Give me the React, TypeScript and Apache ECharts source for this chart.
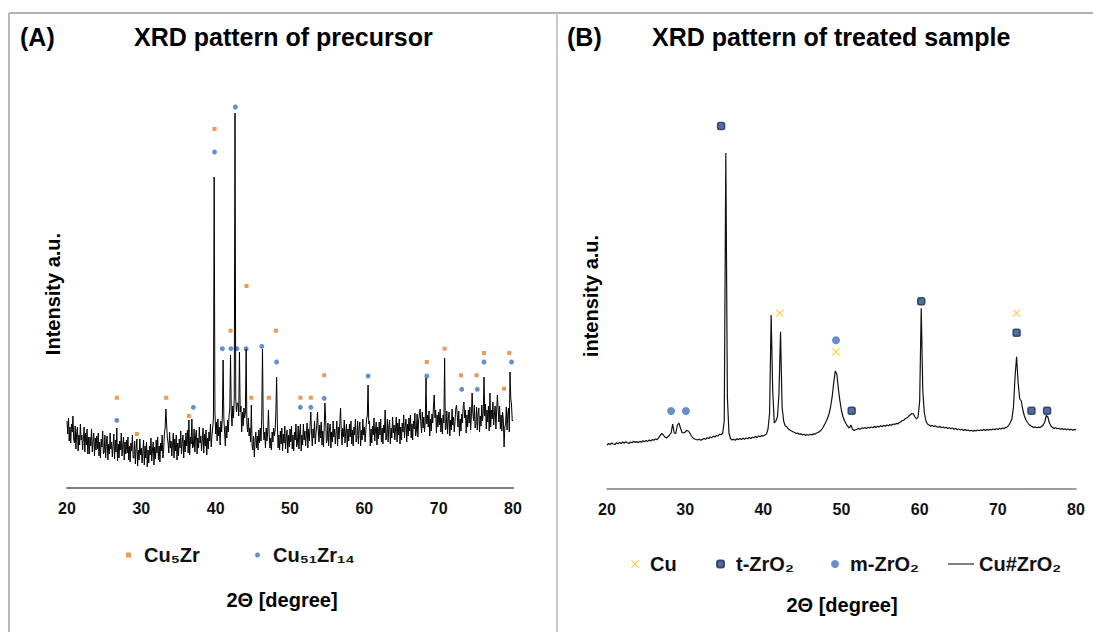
import React, { useEffect, useRef } from "react";
import * as echarts from "echarts";

// ---- sampling grids (2θ in degrees) ----
const X_START = 20;
const X_STEP_A = 0.1;
const X_STEP_B = 0.2;
const X_MIN = 20;
const X_MAX = 80;
const X_INTERVAL = 10;

// ---- (A) precursor pattern, intensity a.u., 20.0 .. 80.0 step 0.1 (one row per degree) ----
const PATTERN_A = [
  670, 540, 700, 470, 610, 450, 640, 560, 720, 490, // 20
  450, 620, 390, 550, 610, 370, 530, 430, 640, 480, // 21
  530, 380, 490, 610, 360, 550, 430, 590, 340, 510, // 22
  340, 510, 420, 590, 360, 470, 550, 320, 500, 380, // 23
  520, 390, 550, 320, 460, 300, 490, 410, 570, 340, // 24
  360, 530, 300, 460, 520, 280, 440, 340, 550, 390, // 25
  460, 310, 420, 540, 290, 480, 360, 600, 270, 440, // 26
  300, 470, 380, 550, 320, 430, 510, 280, 460, 340, // 27
  480, 350, 510, 280, 420, 260, 450, 370, 530, 300, // 28
  300, 470, 240, 400, 490, 220, 380, 280, 490, 330, // 29
  400, 250, 360, 480, 230, 420, 300, 460, 210, 380, // 30
  250, 420, 330, 500, 270, 380, 460, 230, 410, 290, // 31
  480, 350, 510, 280, 420, 260, 450, 370, 530, 300, // 32
  370, 540, 600, 790, 640, 500, 450, 350, 560, 400, // 33
  470, 320, 430, 550, 300, 490, 370, 530, 280, 450, // 34
  320, 490, 400, 570, 340, 450, 530, 300, 480, 360, // 35
  550, 420, 580, 350, 680, 330, 510, 440, 690, 400, // 36
  420, 590, 360, 520, 580, 340, 500, 400, 610, 450, // 37
  520, 370, 480, 600, 350, 540, 420, 580, 330, 500, // 38
  390, 560, 470, 640, 410, 520, 600, 700, 3110, 760, // 39
  540, 660, 470, 690, 520, 610, 430, 670, 560, 720, // 40
  1280, 700, 560, 420, 620, 500, 680, 560, 720, 800, // 41
  1330, 760, 620, 820, 700, 900, 3750, 900, 760, 850, // 42
  850, 720, 1360, 760, 820, 560, 760, 620, 800, 700, // 43
  760, 1390, 640, 560, 700, 520, 600, 460, 830, 420, // 44
  380, 520, 310, 470, 560, 400, 520, 380, 580, 450, // 45
  600, 470, 720, 1390, 640, 480, 560, 400, 600, 470, // 46
  560, 780, 540, 400, 500, 380, 560, 460, 600, 520, // 47
  580, 760, 1110, 620, 400, 530, 380, 570, 440, 600, // 48
  370, 540, 450, 620, 390, 500, 580, 350, 530, 410, // 49
  590, 460, 620, 390, 530, 370, 560, 480, 640, 410, // 50
  450, 620, 390, 550, 640, 370, 530, 430, 640, 480, // 51
  570, 420, 530, 650, 400, 590, 470, 630, 760, 550, // 52
  420, 590, 500, 670, 440, 550, 630, 760, 580, 460, // 53
  630, 500, 660, 430, 570, 410, 600, 850, 680, 450, // 54
  480, 650, 420, 580, 640, 400, 560, 460, 670, 510, // 55
  590, 440, 550, 670, 420, 610, 490, 650, 800, 570, // 56
  430, 600, 510, 680, 450, 560, 640, 410, 590, 470, // 57
  640, 510, 670, 440, 580, 420, 610, 530, 690, 460, // 58
  500, 670, 440, 600, 660, 420, 580, 480, 690, 530, // 59
  610, 460, 570, 690, 720, 1030, 640, 670, 420, 590, // 60
  450, 620, 530, 700, 470, 580, 660, 430, 610, 490, // 61
  660, 530, 690, 460, 600, 440, 630, 550, 780, 480, // 62
  520, 690, 460, 620, 680, 440, 600, 500, 710, 550, // 63
  630, 480, 590, 710, 460, 650, 530, 690, 440, 610, // 64
  480, 650, 560, 730, 500, 610, 690, 460, 640, 520, // 65
  700, 570, 730, 500, 640, 480, 670, 590, 750, 520, // 66
  570, 740, 510, 670, 730, 790, 650, 550, 760, 600, // 67
  710, 560, 670, 1100, 640, 730, 610, 770, 520, 690, // 68
  570, 740, 650, 820, 930, 700, 780, 550, 730, 610, // 69
  760, 630, 790, 560, 700, 540, 730, 650, 1300, 580, // 70
  600, 770, 540, 700, 760, 520, 680, 580, 790, 630, // 71
  710, 560, 670, 790, 830, 730, 610, 770, 520, 690, // 72
  570, 740, 650, 820, 860, 700, 780, 550, 730, 610, // 73
  780, 650, 810, 580, 720, 950, 750, 670, 830, 600, // 74
  640, 810, 580, 740, 800, 560, 720, 620, 830, 670, // 75
  760, 1110, 720, 840, 590, 780, 660, 820, 570, 950, // 76
  610, 780, 690, 860, 630, 740, 820, 590, 770, 930, // 77
  790, 660, 820, 590, 730, 570, 760, 680, 410, 610, // 78
  640, 810, 580, 740, 800, 560, 1160, 900, 830, 670, // 79
  680, // 80
];

// ---- (B) treated sample pattern, intensity a.u., 20.0 .. 80.0 step 0.2 ----
const PATTERN_B = [
  440, 455, 445, 460, 450, 445, 462, 452, 466, 455,
  470, 458, 472, 462, 455, 470, 462, 478, 466, 474,
  462, 476, 468, 482, 472, 486, 476, 490, 480, 494,
  488, 500, 494, 512, 534, 556, 540, 520, 510, 522,
  540, 560, 650, 560, 555, 640, 660, 610, 565, 560,
  570, 585, 580, 560, 530, 510, 500, 495, 490, 498,
  488, 496, 505, 498, 512, 505, 520, 514, 528, 520,
  535, 530, 548, 542, 560, 680, 3360, 920, 560, 505,
  490, 498, 488, 502, 494, 506, 496, 508, 498, 510,
  502, 514, 506, 518, 512, 524, 516, 530, 522, 534,
  530, 540, 548, 600, 760, 1740, 980, 660, 680, 720,
  950, 1573, 820, 680, 630, 622, 600, 590, 580, 572,
  565, 555, 560, 548, 552, 540, 548, 536, 545, 538,
  548, 540, 552, 548, 560, 565, 575, 590, 610, 640,
  670, 705, 750, 820, 920, 1060, 1180, 1150, 1000, 880,
  780, 720, 680, 650, 625, 610, 640, 600, 585, 592,
  598, 606, 596, 612, 605, 615, 604, 618, 610, 620,
  612, 624, 616, 628, 620, 632, 624, 636, 628, 640,
  632, 644, 638, 650, 646, 656, 650, 664, 672, 684,
  690, 705, 712, 728, 742, 755, 750, 720, 700, 720,
  880, 1807, 980, 760, 680, 650, 640, 628, 636, 624,
  632, 622, 618, 626, 612, 620, 610, 618, 606, 612,
  604, 610, 598, 606, 594, 600, 590, 598, 586, 594,
  584, 590, 580, 588, 578, 586, 580, 590, 582, 592,
  584, 594, 586, 596, 588, 598, 590, 600, 594, 602,
  596, 606, 600, 610, 604, 614, 620, 640, 665, 700,
  820, 1120, 1323, 1060, 900, 880, 790, 730, 690, 665,
  645, 632, 624, 616, 620, 612, 618, 615, 625, 640,
  670, 735, 720, 660, 630, 614, 606, 612, 602, 608,
  598, 604, 594, 602, 592, 600, 590, 598, 588, 596,
  590,
];

// ---- phase markers (2θ, intensity) ----
const CU5ZR = [
  [26.7, 903], [29.4, 540], [33.35, 903], [36.4, 720], [39.85, 3590],
  [42.0, 1573], [44.15, 2020], [44.8, 903], [47.15, 903], [48.1, 1573],
  [51.4, 903], [52.8, 903], [54.6, 1127], [68.4, 1260], [70.8, 1393],
  [73.0, 1127], [75.1, 1127], [76.1, 1350], [78.8, 993], [79.5, 1350],
];
const CU51ZR14 = [
  [26.7, 677], [37.0, 807], [39.85, 3360], [40.9, 1393], [42.05, 1393],
  [42.65, 3810], [42.85, 1393], [44.1, 1393], [46.2, 1417], [48.2, 1260],
  [51.4, 807], [52.8, 807], [54.6, 897], [60.5, 1120], [68.4, 1120],
  [73.1, 987], [75.2, 987], [76.1, 1260], [79.8, 1260],
];
const CU = [[42.1, 1757], [49.3, 1370], [72.4, 1757]];
const T_ZRO2 = [
  [34.6, 3630], [51.3, 783], [60.2, 1877], [72.4, 1563], [74.3, 783], [76.3, 783],
];
const M_ZRO2 = [[28.2, 780], [30.1, 780], [49.3, 1487]];

const NAMES = {
  cu5zr: "Cu\u2085Zr",
  cu51zr14: "Cu\u2085\u2081Zr\u2081\u2084",
  cu: "Cu",
  t: "t-ZrO\u2082",
  m: "m-ZrO\u2082",
  line: "Cu#ZrO\u2082",
};

const FONT = '"Liberation Sans", Arial, "DejaVu Sans", sans-serif';
const X_SYMBOL =
  "path://M0,1L1,0L5,4L9,0L10,1L6,5L10,9L9,10L5,6L1,10L0,9L4,5Z";

function toSeries(values: number[], step: number) {
  return values.map((v, i) => [X_START + i * step, v]);
}

export default function App() {
  const ref = useRef<HTMLDivElement | null>(null);

  useEffect(() => {
    if (!ref.current) return;
    const chart = echarts.init(ref.current, null, { renderer: "svg" });

    const xAxisBase = (gridIndex: number, lineWidth: number) => ({
      type: "value",
      gridIndex,
      min: X_MIN,
      max: X_MAX,
      interval: X_INTERVAL,
      axisLine: { show: true, lineStyle: { color: "#7f7f7f", width: lineWidth } },
      axisTick: { show: false },
      splitLine: { show: false },
      axisLabel: {
        color: "#111",
        fontFamily: FONT,
        fontWeight: "bold",
        fontSize: 16,
        margin: 12,
      },
    });
    const yAxisBase = (gridIndex: number) => ({
      type: "value",
      gridIndex,
      min: 0,
      max: 4000,
      show: false,
    });

    const mkLegend = (
      item: any,
      left: number,
      top: number,
      w: number,
      h: number,
      pad: number
    ) => ({
      data: [item],
      left,
      top,
      itemWidth: w,
      itemHeight: h,
      selectedMode: false,
      textStyle: {
        color: "#111",
        fontFamily: FONT,
        fontWeight: "bold",
        fontSize: 20,
        padding: [0, 0, 0, pad],
      },
    });

    const text = (
      t: string,
      x: number,
      y: number,
      size: number,
      align: string,
      rotation = 0
    ) => ({
      type: "text",
      x,
      y,
      rotation,
      silent: true,
      style: {
        text: t,
        fill: "#000",
        font: `bold ${size}px ${FONT}`,
        align,
        textAlign: align,
        verticalAlign: "middle",
        textVerticalAlign: "middle",
      },
    });
    const line = (x1: number, y1: number, x2: number, y2: number, color: string) => ({
      type: "line",
      silent: true,
      shape: { x1, y1, x2, y2 },
      style: { stroke: color, lineWidth: 2 },
    });

    chart.setOption({
      animation: false,
      backgroundColor: "#fff",
      grid: [
        { left: 67, right: 580, top: 88, height: 400 },
        { left: 607, right: 17, top: 89, height: 400 },
      ],
      xAxis: [xAxisBase(0, 2), xAxisBase(1, 1.5)],
      yAxis: [yAxisBase(0), yAxisBase(1)],
      legend: [
        mkLegend(NAMES.cu5zr, 121, 540, 5, 5, 8),
        mkLegend(NAMES.cu51zr14, 250, 540, 5, 5, 8),
        mkLegend(NAMES.cu, 626, 549, 8, 8, 6),
        mkLegend(NAMES.t, 711, 549, 7, 7, 7),
        mkLegend(NAMES.m, 826, 549, 8, 8, 6),
        mkLegend(
          { name: NAMES.line, icon: "rect", itemStyle: { color: "#7f7f7f" } },
          943,
          549,
          26,
          2,
          0
        ),
      ],
      series: [
        {
          type: "line",
          name: "precursor",
          xAxisIndex: 0,
          yAxisIndex: 0,
          data: toSeries(PATTERN_A, X_STEP_A),
          symbol: "none",
          silent: true,
          lineStyle: { color: "#000", width: 1 },
        },
        {
          type: "scatter",
          name: NAMES.cu5zr,
          xAxisIndex: 0,
          yAxisIndex: 0,
          data: CU5ZR,
          symbol: "rect",
          symbolSize: 4,
          itemStyle: { color: "#ED7D31" },
        },
        {
          type: "scatter",
          name: NAMES.cu51zr14,
          xAxisIndex: 0,
          yAxisIndex: 0,
          data: CU51ZR14,
          symbol: "circle",
          symbolSize: 5,
          itemStyle: { color: "#4472C4" },
        },
        {
          type: "line",
          name: NAMES.line,
          xAxisIndex: 1,
          yAxisIndex: 1,
          data: toSeries(PATTERN_B, X_STEP_B),
          symbol: "none",
          silent: true,
          lineStyle: { color: "#111", width: 1.2 },
          itemStyle: { color: "#111" },
        },
        {
          type: "scatter",
          name: NAMES.cu,
          xAxisIndex: 1,
          yAxisIndex: 1,
          data: CU,
          symbol: X_SYMBOL,
          symbolSize: 8,
          itemStyle: { color: "#FFC000" },
        },
        {
          type: "scatter",
          name: NAMES.t,
          xAxisIndex: 1,
          yAxisIndex: 1,
          data: T_ZRO2,
          symbol: "roundRect",
          symbolSize: 7,
          itemStyle: { color: "#284A86", borderColor: "#1B2F5C", borderWidth: 1.5 },
        },
        {
          type: "scatter",
          name: NAMES.m,
          xAxisIndex: 1,
          yAxisIndex: 1,
          data: M_ZRO2,
          symbol: "circle",
          symbolSize: 8,
          itemStyle: { color: "#4472C4" },
        },
      ],
      graphic: [
        line(9, 13, 1093, 13, "#b0b0b0"),
        line(9, 13, 9, 632, "#b8b8b8"),
        line(557, 13, 557, 632, "#c8c8c8"),
        text("(A)", 20, 37, 25, "left"),
        text("XRD pattern of precursor", 134, 37, 25, "left"),
        text("(B)", 567, 37, 25, "left"),
        text("XRD pattern of treated sample", 652, 37, 25, "left"),
        text("Intensity a.u.", 53, 294, 20, "center", Math.PI / 2),
        text("intensity a.u.", 591, 296, 20, "center", Math.PI / 2),
        text("2\u0398 [degree]", 282, 600, 20, "center"),
        text("2\u0398 [degree]", 842, 605, 20, "center"),
      ],
    });

    return () => chart.dispose();
  }, []);

  return (
    <div
      ref={ref}
      style={{ position: "absolute", left: 0, top: 0, width: 1093, height: 632 }}
    />
  );
}
